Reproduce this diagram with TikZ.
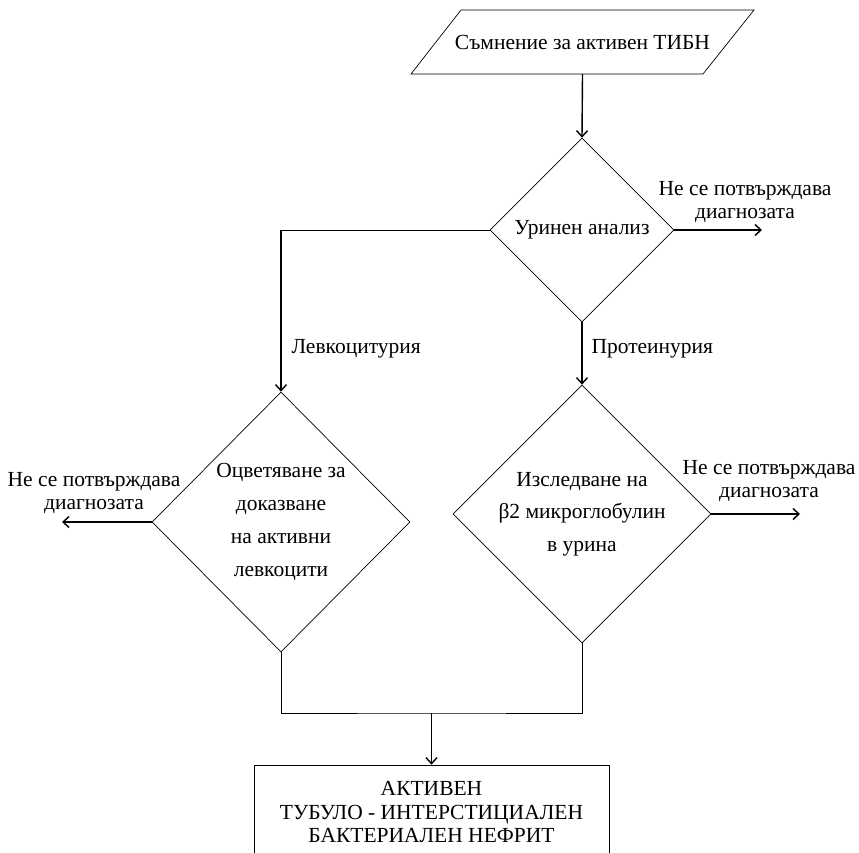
\documentclass[tikz,border=0pt]{standalone}
\usepackage{fontspec}
\setmainfont{Liberation Serif}
\usetikzlibrary{shapes.geometric,arrows.meta}

\begin{document}
\begin{tikzpicture} [x=1pt,y=-1pt,
  every node/.style={font=\fontsize{21.5}{23.5}\selectfont, align=center},
  decision/.style={draw, line width=0.7pt, shape=diamond, inner sep=0pt},
  block/.style={draw, line width=0.7pt, inner sep=0pt},
  flow/.style={-{Straight Barb[length=6pt,width=11pt]}, line width=1.4pt},
  plainline/.style={line width=0.7pt}]

%\draw [step=50, dotted] (0,0) grid (859,853);
\useasboundingbox (0,0) rectangle (859,853);

% input box drawn by hand
\draw [line width=0.7pt] (411,74) -- (461,10) -- (754,10) -- (703,74) -- cycle;
\node [minimum height=64, inner sep=0pt] (susp) at (582.5,42) {Съмнение за активен ТИБН};

\node [decision, minimum width=184, minimum height=184] (urine) at (582,230) {Уринен анализ};
\node [decision, minimum width=258, minimum height=260, font=\fontsize{21.5}{33}\selectfont]
  (stain) at (281,522) {Оцветяване за\\доказване\\на активни\\левкоцити};
\node [decision, minimum width=258, minimum height=258, font=\fontsize{21.5}{32.5}\selectfont]
  (beta) at (582,514) {Изследване на\\β2 микроглобулин\\в урина};
\node [block, minimum width=355, minimum height=94] (result) at (431.5,812)
  {АКТИВЕН\\ТУБУЛО - ИНТЕРСТИЦИАЛЕН\\БАКТЕРИАЛЕН НЕФРИТ};

\node [anchor=west] (leuko) at (288,349) {Левкоцитурия};
\node [anchor=west] (prote) at (588,349) {Протеинурия};
\node (noA) at (745,202) {Не се потвърждава\\диагнозата};
\node (noB) at (94,493) {Не се потвърждава\\диагнозата};
\node (noC) at (769,481) {Не се потвърждава\\диагнозата};

\coordinate (endA) at (762,230);
\coordinate (endB) at (62,522);
\coordinate (endC) at (800,514);
\coordinate (corner) at (281,230);
\coordinate (merge) at (431.5,713);

\draw [flow] (susp.south) -- (urine.north);
\draw [plainline] (urine.west) -- (corner);
\draw [flow] (corner) -- (stain.north);
\draw [flow] (urine.south) -- (beta.north);
\draw [flow] (urine.east) -- (endA);
\draw [flow] (stain.west) -- (endB);
\draw [flow] (beta.east) -- (endC);
\draw [plainline] (stain.south) |- (merge) -| (beta.south);
\draw [flow] (merge) -- (result.north);

\end{tikzpicture}
\end{document}
